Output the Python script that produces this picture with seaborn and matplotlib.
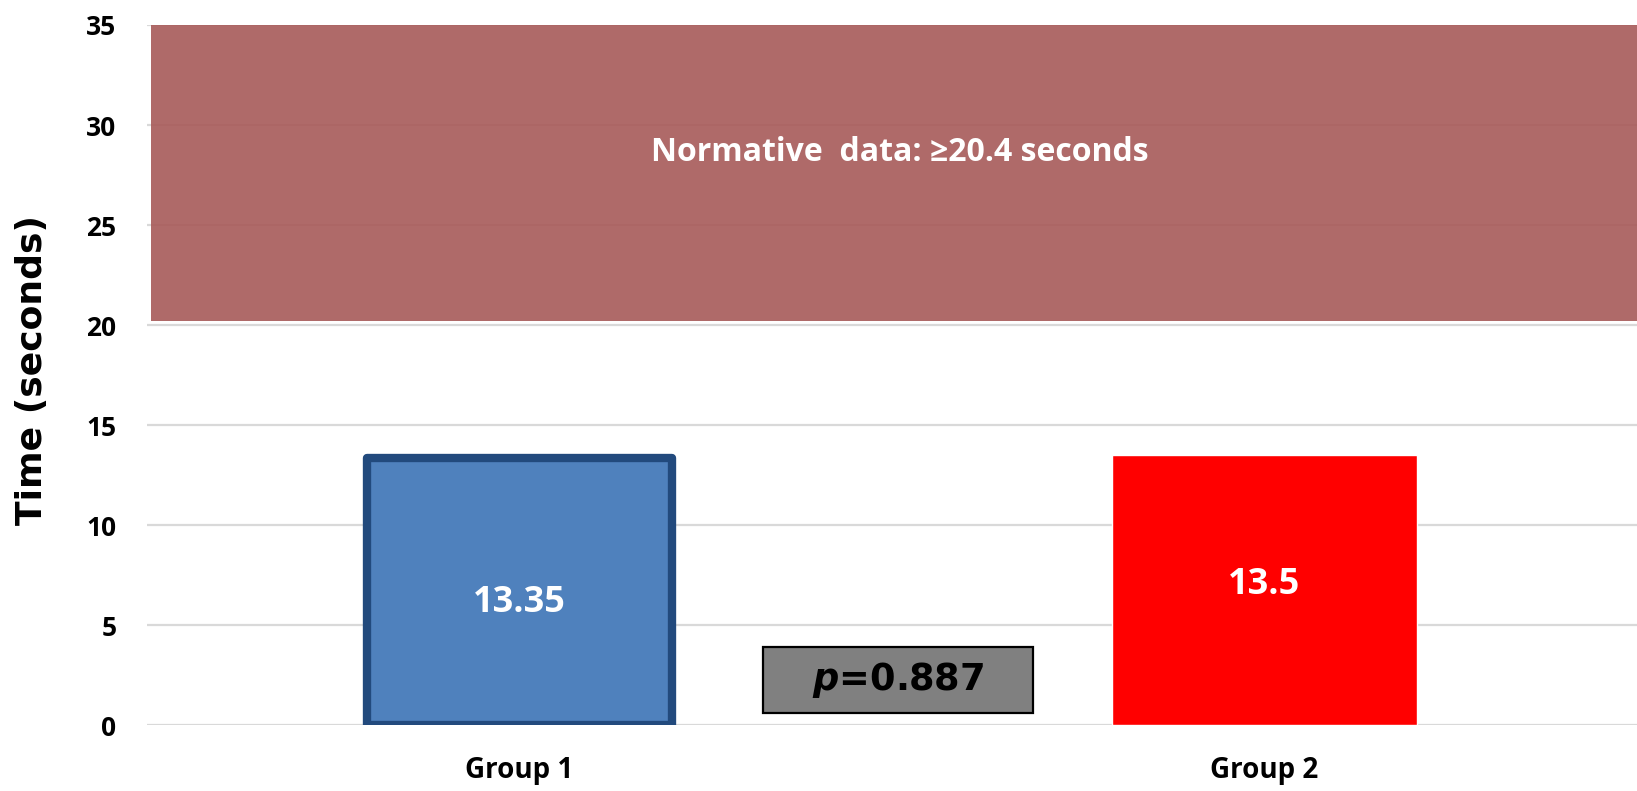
import matplotlib
matplotlib.use("Agg")
import matplotlib.pyplot as plt
from matplotlib.patches import Rectangle
import seaborn as sns
import pandas as pd

# Data
groups = ["Group 1", "Group 2"]
times = [13.35, 13.5]
bar_colors = ["#4F81BD", "#FF0000"]
normative_low = 20.2
normative_high = 35
normative_label = "Normative  data: \u226520.4 seconds"
p_label = r"$\it{p}$=0.887"
y_ticks = [0, 5, 10, 15, 20, 25, 30, 35]

df = pd.DataFrame({"group": groups, "time": times})

sns.set_style("white")
plt.rcParams["font.family"] = ["Open Sans", "DejaVu Sans"]
plt.rcParams["mathtext.fontset"] = "custom"
plt.rcParams["mathtext.it"] = "DejaVu Sans:italic:bold"
plt.rcParams["text.color"] = "black"
plt.rcParams["axes.labelcolor"] = "black"
plt.rcParams["xtick.color"] = "black"
plt.rcParams["ytick.color"] = "black"

fig = plt.figure(figsize=(16.37, 7.91), dpi=100)
ax = fig.add_axes([0.0898, 0.0834, 0.9102, 0.885])

sns.barplot(data=df, x="group", y="time", hue="group", palette=bar_colors,
            width=0.41, legend=False, saturation=1, ax=ax, zorder=3)

# Group 1 has a thick dark-blue border
ax.patches[0].set_edgecolor("#224A7D")
ax.patches[0].set_linewidth(6)
ax.patches[0].set_joinstyle("round")

# Normative range band
ax.axhspan(normative_low, normative_high, xmin=0.003, xmax=1,
           color="#A75A59", alpha=0.9, lw=0, zorder=1)
ax.text(0.51, 28.65, normative_label, color="white", fontsize=23,
        fontweight="bold", ha="center", va="center", zorder=4,
        family=["Open Sans", "DejaVu Sans"])

# Value labels inside bars
label_y = [6.1, 7.0]
for i, (v, ly) in enumerate(zip(times, label_y)):
    ax.text(i, ly, f"{v:g}", color="white", fontsize=26, fontweight="bold",
            ha="center", va="center", zorder=5)

# p-value box
ax.add_patch(Rectangle((0.327, 0.62), 0.362, 3.3, facecolor="#808080",
                       edgecolor="black", lw=1.6, zorder=4))
ax.text(0.508, 2.27, p_label, fontsize=26.5, fontweight="heavy", color="black",
        family="DejaVu Sans", ha="center", va="center", zorder=5)

ax.set_xlim(-0.5, 1.5)
ax.set_ylim(0, 35)
ax.set_yticks(y_ticks)
ax.grid(axis="y", color="#D9D9D9", lw=1.6, zorder=0)
ax.set_axisbelow(True)
for s in ax.spines.values():
    s.set_visible(False)

ax.tick_params(axis="y", length=0, pad=22, labelsize=19)
ax.tick_params(axis="x", length=0, pad=22, labelsize=20)
for lab in ax.get_yticklabels() + ax.get_xticklabels():
    lab.set_fontweight("bold")

ax.set_xlabel("")
ax.set_ylabel("Time (seconds)", fontsize=26, fontweight="bold",
              family="DejaVu Sans")
ax.yaxis.set_label_coords(-0.066, 0.507)

fig.savefig("out.png", dpi=100)
